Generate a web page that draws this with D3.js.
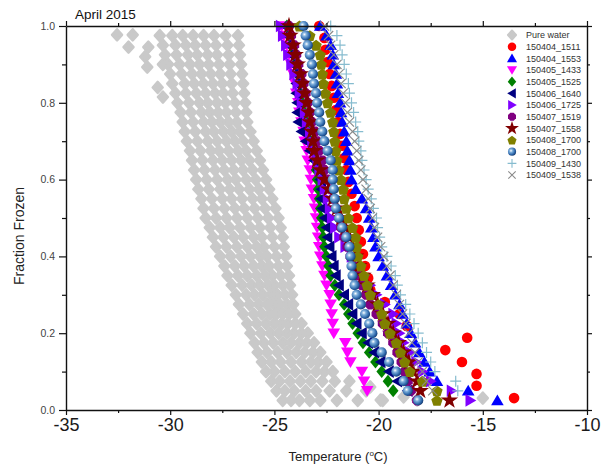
<!DOCTYPE html>
<html>
<head>
<meta charset="utf-8">
<script src="https://cdn.jsdelivr.net/npm/d3@7"></script>
<style>
  html, body { margin: 0; padding: 0; background: #fff; }
  svg { display: block; }
  text { font-family: "Liberation Sans", Arial, sans-serif; }
</style>
</head>
<body>
<svg id="chart" width="601" height="468"></svg>
<script>
// ---- fraction levels ----
const frac40 = [1.000,0.975,0.950,0.925,0.900,0.875,0.850,0.825,0.800,0.775,0.750,0.725,0.700,0.675,0.650,0.625,0.600,0.575,0.550,0.525,0.500,0.475,0.450,0.425,0.400,0.375,0.350,0.325,0.300,0.275,0.250,0.225,0.200,0.175,0.150,0.125,0.100,0.075,0.050,0.025];
const frac32 = [1.000,0.969,0.938,0.906,0.875,0.844,0.813,0.781,0.750,0.719,0.688,0.656,0.625,0.594,0.563,0.531,0.500,0.469,0.438,0.406,0.375,0.344,0.313,0.281,0.250,0.219,0.188,0.156,0.125,0.094,0.063,0.031];
const fracPure = [0.975,0.950,0.925,0.900,0.875,0.850,0.825,0.800,0.775,0.750,0.725,0.700,0.675,0.650,0.625,0.600,0.575,0.550,0.525,0.500,0.475,0.450,0.425,0.400,0.375,0.350,0.325,0.300,0.275,0.250,0.225,0.200,0.175,0.150,0.125,0.100,0.075,0.050,0.025];

// ---- pure water runs (temperature, °C) ----
const pureA = [-30.5,-30.35,-30.25,-30.1,-30.0,-29.9,-29.75,-29.65,-29.5,-29.4,-29.3,-29.2,-29.05,-28.95,-28.85,-28.75,-28.65,-28.5,-28.4,-28.3,-28.1,-27.95,-27.8,-27.6,-27.4,-27.25,-27.05,-26.85,-26.7,-26.5,-26.3,-26.15,-25.95,-25.8,-25.6,-25.4,-25.15,-24.9,-24.6];
const pureB = [-29.9,-29.75,-29.7,-29.55,-29.45,-29.3,-29.25,-29.1,-29.0,-28.9,-28.8,-28.7,-28.55,-28.45,-28.35,-28.25,-28.15,-28.0,-27.9,-27.8,-27.6,-27.45,-27.3,-27.1,-26.9,-26.75,-26.55,-26.35,-26.2,-26.0,-25.85,-25.65,-25.5,-25.35,-25.15,-25.0,-24.75,-24.5,-24.2];
const pureC = [-29.4,-29.25,-29.15,-29.05,-28.95,-28.85,-28.75,-28.6,-28.5,-28.4,-28.3,-28.2,-28.05,-27.95,-27.85,-27.75,-27.6,-27.5,-27.4,-27.3,-27.15,-26.95,-26.8,-26.6,-26.45,-26.3,-26.1,-25.95,-25.75,-25.6,-25.4,-25.2,-25.05,-24.85,-24.7,-24.5,-24.25,-24.05,-23.8];
const pureD = [-28.9,-28.8,-28.7,-28.6,-28.5,-28.4,-28.3,-28.2,-28.1,-28.0,-27.9,-27.75,-27.65,-27.5,-27.4,-27.25,-27.15,-27.05,-26.9,-26.8,-26.65,-26.5,-26.3,-26.15,-26.0,-25.85,-25.7,-25.55,-25.35,-25.2,-25.0,-24.8,-24.6,-24.4,-24.2,-24.0,-23.75,-23.5,-23.3];
const pureE = [-28.4,-28.3,-28.2,-28.15,-28.05,-27.95,-27.85,-27.75,-27.7,-27.6,-27.45,-27.3,-27.2,-27.05,-26.95,-26.85,-26.7,-26.55,-26.45,-26.3,-26.15,-26.0,-25.85,-25.7,-25.6,-25.45,-25.3,-25.15,-25.0,-24.9,-24.65,-24.4,-24.2,-23.95,-23.7,-23.5,-23.25,-23.0,-22.8];
const pureF = [-27.9,-27.8,-27.75,-27.65,-27.6,-27.5,-27.45,-27.35,-27.3,-27.2,-27.05,-26.9,-26.75,-26.6,-26.5,-26.35,-26.2,-26.05,-25.95,-25.8,-25.7,-25.6,-25.5,-25.35,-25.25,-25.1,-25.0,-24.85,-24.75,-24.6,-24.35,-24.05,-23.8,-23.55,-23.25,-23.0,-22.7,-22.35,-22.0];
const pureG = [-27.35,-27.25,-27.2,-27.15,-27.1,-27.05,-27.0,-26.9,-26.85,-26.8,-26.65,-26.5,-26.35,-26.2,-26.05,-25.9,-25.75,-25.6,-25.45,-25.3,-25.2,-25.1,-25.0,-24.9,-24.8,-24.7,-24.6,-24.5,-24.4,-24.3,-24.0,-23.7,-23.45,-23.15,-22.9,-22.6,-22.1,-21.55,-21.0];
const pureH = [-26.75,-26.7,-26.65,-26.6,-26.55,-26.5,-26.45,-26.4,-26.35,-26.3,-26.15,-26.0,-25.85,-25.7,-25.55,-25.4,-25.25,-25.1,-24.95,-24.8,-24.7,-24.6,-24.55,-24.45,-24.4,-24.3,-24.25,-24.15,-24.1,-24.0,-23.7,-23.4,-23.1,-22.8,-22.5,-22.2,-21.4,-20.6,-19.8];
const pureExtraT = [-32.55,-31.8,-32.0,-31.05,-31.2,-31.1,-30.35,-30.6,-30.35,-20.4,-18.8,-18.15,-15.0,-19.9];
const pureExtraF = [0.977,0.977,0.945,0.945,0.92,0.893,0.9,0.84,0.815,0.06,0.034,0.026,0.031,0.026];

// ---- sample runs (temperature, °C) ----
const s150404_1511 = [-22.85,-22.6,-22.55,-22.45,-22.35,-22.25,-22.15,-22.05,-21.95,-21.85,-21.75,-21.65,-21.55,-21.45,-21.3,-21.15,-21.05,-20.95,-20.85,-20.75,-20.65,-20.5,-20.4,-19.7,-19.0,-18.65,-15.75,-16.8,-16.0,-15.3,-15.3,-13.5];
const s150404_1553 = [-22.8,-22.5,-22.3,-22.2,-22.15,-22.05,-22.0,-21.95,-21.85,-21.8,-21.75,-21.65,-21.55,-21.5,-21.4,-21.35,-21.3,-21.1,-20.8,-20.6,-20.45,-20.35,-20.25,-20.15,-20.0,-19.8,-19.6,-19.4,-19.2,-19.0,-18.85,-18.65,-18.45,-18.25,-18.05,-17.8,-17.55,-17.2,-15.7,-14.3];
const s150405_1433 = [-24.65,-24.55,-24.4,-24.3,-24.2,-24.1,-24.0,-23.95,-23.85,-23.8,-23.7,-23.6,-23.55,-23.45,-23.4,-23.3,-23.25,-23.2,-23.1,-23.05,-23.0,-22.95,-22.9,-22.85,-22.8,-22.7,-22.6,-22.5,-22.35,-22.3,-22.25,-22.2,-22.15,-21.6,-21.5,-21.35,-20.8,-20.7,-20.55];
const s150405_1525 = [-24.4,-24.3,-24.2,-24.1,-24.0,-23.9,-23.8,-23.75,-23.65,-23.55,-23.45,-23.35,-23.25,-23.15,-23.05,-23.0,-22.95,-22.9,-22.85,-22.8,-22.75,-22.7,-22.65,-22.6,-22.5,-22.4,-22.3,-22.1,-21.9,-21.65,-21.45,-21.25,-21.0,-20.75,-20.45,-20.15,-19.85,-19.55,-19.3];
const s150406_1640 = [-24.5,-24.4,-24.3,-24.2,-24.1,-24.0,-23.95,-23.95,-23.9,-23.9,-23.85,-23.7,-23.5,-23.3,-23.1,-22.9,-22.8,-22.75,-22.75,-22.7,-22.6,-22.5,-22.45,-22.35,-22.25,-22.15,-22.05,-21.9,-21.65,-21.45,-21.25,-21.05,-20.8,-20.5,-20.2,-19.9,-19.5,-19.1,-18.6];
const s150406_1725 = [-24.7,-24.6,-24.45,-24.35,-24.2,-24.05,-23.9,-23.8,-23.7,-23.55,-23.45,-23.3,-23.2,-23.05,-22.95,-22.85,-22.7,-22.6,-22.45,-22.35,-22.25,-22.1,-21.9,-21.6,-21.3,-21.0,-20.7,-20.4,-20.1,-19.7,-19.3,-19.15,-19.0,-18.8,-18.5,-18.2,-17.9,-17.5,-16.5,-15.6];
const s150407_1519 = [-24.3,-24.2,-24.05,-23.95,-23.85,-23.7,-23.6,-23.5,-23.4,-23.3,-23.2,-23.05,-22.95,-22.85,-22.7,-22.6,-22.45,-22.3,-22.2,-22.05,-21.9,-21.8,-21.65,-21.5,-21.35,-21.2,-21.0,-20.8,-20.6,-20.4,-20.1,-19.8,-19.55,-19.3,-19.1,-18.9,-18.75,-18.6,-18.45,-18.15];
const s150407_1558 = [-24.3,-24.25,-24.1,-24.0,-23.9,-23.75,-23.65,-23.55,-23.45,-23.35,-23.3,-23.2,-23.15,-23.1,-22.95,-22.8,-22.6,-22.4,-22.2,-22.0,-21.8,-21.6,-21.4,-21.25,-21.1,-20.95,-20.75,-20.55,-20.3,-20.05,-19.8,-19.55,-19.3,-19.05,-18.8,-18.55,-18.35,-18.15,-18.0,-16.6];
const s150408_1700a = [-23.8,-23.3,-23.0,-22.8,-22.75,-22.7,-22.65,-22.55,-22.45,-22.3,-22.2,-22.15,-22.1,-22.05,-22.0,-21.9,-21.8,-21.7,-21.65,-21.55,-21.45,-21.25,-21.1,-21.05,-21.0,-20.85,-20.7,-20.55,-20.4,-20.0,-19.85,-19.7,-19.45,-19.15,-18.95,-18.75,-18.5,-17.9,-17.2,-17.2];
const s150408_1700b = [-23.6,-23.5,-23.4,-23.3,-23.2,-23.15,-23.1,-23.0,-22.95,-22.85,-22.8,-22.7,-22.6,-22.45,-22.3,-22.2,-22.2,-22.15,-22.1,-22.05,-21.9,-21.75,-21.55,-21.4,-21.35,-21.3,-21.25,-21.15,-21.05,-20.85,-20.65,-20.45,-20.3,-20.2,-19.85,-19.5,-19.15,-18.8,-18.6,-18.1];
const s150409_1430 = [-22.3,-22.0,-21.85,-21.75,-21.65,-21.55,-21.45,-21.4,-21.3,-21.2,-21.1,-21.0,-20.95,-20.85,-20.8,-20.7,-20.6,-20.5,-20.35,-20.25,-20.1,-20.05,-19.95,-19.85,-19.6,-19.4,-19.2,-19.1,-18.95,-18.7,-18.5,-18.3,-18.1,-17.9,-17.7,-17.5,-17.3,-16.3,-16.2];
const s150409_1538 = [-22.6,-22.4,-22.3,-22.15,-22.0,-21.9,-21.8,-21.7,-21.6,-21.5,-21.4,-21.25,-21.15,-21.05,-20.95,-20.85,-20.75,-20.6,-20.5,-20.4,-20.3,-20.2,-20.05,-19.9,-19.75,-19.6,-19.45,-19.3,-19.15,-19.0,-18.85,-18.7,-18.55,-18.4,-18.25,-18.1,-17.9,-17.7,-17.4];

// ---- axis ticks ----
const xMajorTicks = [-35, -30, -25, -20, -15, -10];
const xMinorTicks = [-32.5, -27.5, -22.5, -17.5, -12.5];
const yMajorTicks = [0, 0.2, 0.4, 0.6, 0.8, 1.0];
const yMinorTicks = [0.1, 0.3, 0.5, 0.7, 0.9];

// ---- marker shapes ----
function shapePath(type, s) {
  const p = [];
  const poly = pts => "M" + pts.map(q => q[0].toFixed(2) + "," + q[1].toFixed(2)).join("L") + "Z";
  switch (type) {
    case "circle": return d3.symbol(d3.symbolCircle, Math.PI * s * s)();
    case "rhomb": return poly([[0,-s],[s*0.9,0],[0,s],[-s*0.9,0]]);
    case "triUp": return poly([[0,-s],[s*1.05,s*0.8],[-s*1.05,s*0.8]]);
    case "triDown": return poly([[0,s],[s*1.05,-s*0.8],[-s*1.05,-s*0.8]]);
    case "triLeft": return poly([[-s,0],[s*0.8,-s*1.05],[s*0.8,s*1.05]]);
    case "triRight": return poly([[s,0],[-s*0.8,-s*1.05],[-s*0.8,s*1.05]]);
    case "diamond": return poly([[0,-s*1.15],[s*0.95,0],[0,s*1.15],[-s*0.95,0]]);
    case "octagon":
      for (let i = 0; i < 8; i++) { const a = Math.PI / 8 + i * Math.PI / 4; p.push([s * Math.cos(a), s * Math.sin(a)]); }
      return poly(p);
    case "pentagon":
      for (let i = 0; i < 5; i++) { const a = -Math.PI / 2 + i * 2 * Math.PI / 5; p.push([s * 1.05 * Math.cos(a), s * 1.05 * Math.sin(a) + 0.6]); }
      return poly(p);
    case "star": return d3.symbol(d3.symbolStar, s * s * 2.6)();
    case "plus": return `M${-s},0L${s},0M0,${-s}L0,${s}`;
    case "cross": return `M${-s},${-s}L${s},${s}M${-s},${s}L${s},${-s}`;
  }
}

const x = d3.scaleLinear().domain([-35, -10]).range([66, 587]);
const y = d3.scaleLinear().domain([0, 1]).range([410, 26]);

const svg = d3.select("#chart");
const defs = svg.append("defs");
const grad = defs.append("radialGradient").attr("id", "ball").attr("cx", "38%").attr("cy", "38%").attr("r", "65%");
grad.append("stop").attr("offset", "0%").attr("stop-color", "#ffffff");
grad.append("stop").attr("offset", "30%").attr("stop-color", "#7fb0dc");
grad.append("stop").attr("offset", "75%").attr("stop-color", "#2a64a8");
grad.append("stop").attr("offset", "100%").attr("stop-color", "#173c70");

const pureRuns = [pureA, pureB, pureC, pureD, pureE, pureF, pureG, pureH];
const purePoints = [];
pureRuns.forEach(run => run.forEach((t, i) => purePoints.push([t, fracPure[i]])));
pureExtraT.forEach((t, i) => purePoints.push([t, pureExtraF[i]]));

const series = [
  { name: "Pure water",  points: purePoints, shape: "rhomb", size: 5.6, fill: "#c9c9c9", soft: true },
  { name: "150404_1511", temps: s150404_1511, fracs: frac32, shape: "circle",   size: 5.3, fill: "#ff0000" },
  { name: "150404_1553", temps: s150404_1553, fracs: frac40, shape: "triUp",    size: 6.0, fill: "#0000ff" },
  { name: "150405_1433", temps: s150405_1433, fracs: frac40, shape: "triDown",  size: 6.0, fill: "#ff00ff" },
  { name: "150405_1525", temps: s150405_1525, fracs: frac40, shape: "diamond",  size: 5.6, fill: "#008000" },
  { name: "150406_1640", temps: s150406_1640, fracs: frac40, shape: "triLeft",  size: 6.0, fill: "#000080" },
  { name: "150406_1725", temps: s150406_1725, fracs: frac40, shape: "triRight", size: 6.0, fill: "#8000ff" },
  { name: "150407_1519", temps: s150407_1519, fracs: frac40, shape: "octagon",  size: 5.4, fill: "#800080" },
  { name: "150407_1558", temps: s150407_1558, fracs: frac40, shape: "star",     size: 6.0, fill: "#800000" },
  { name: "150408_1700", temps: s150408_1700a, fracs: frac40, shape: "pentagon", size: 5.7, fill: "#808000" },
  { name: "150408_1700", temps: s150408_1700b, fracs: frac40, shape: "circle",   size: 5.1, fill: "url(#ball)" },
  { name: "150409_1430", temps: s150409_1430, fracs: frac40, shape: "plus",     size: 5.5, stroke: "#86bccf" },
  { name: "150409_1538", temps: s150409_1538, fracs: frac40, shape: "cross",    size: 4.6, stroke: "#8a8a8a" }
];
series.forEach(s => {
  if (!s.points) s.points = s.temps.map((t, i) => [t, s.fracs[i]]);
});

// ---- markers ----
const plot = svg.append("g");
series.forEach(s => {
  const d = shapePath(s.shape, s.size);
  plot.append("g").selectAll("path").data(s.points).join("path")
    .attr("d", d)
    .attr("transform", p => `translate(${x(p[0])},${y(p[1])})`)
    .attr("fill", s.fill || "none")
    .attr("stroke", s.stroke || (s.soft ? s.fill : "none"))
    .attr("stroke-width", s.stroke ? 1.2 : (s.soft ? 2.4 : 0))
    .attr("stroke-linejoin", "round");
});

// ---- axes ----
const axisColor = "#111";
function styleAxis(g) {
  g.select(".domain").attr("stroke", axisColor).attr("stroke-width", 1.4);
  g.selectAll(".tick line").attr("stroke", axisColor).attr("stroke-width", 1.2);
}
svg.append("g").attr("transform", "translate(0,410)")
  .call(d3.axisBottom(x).tickValues(xMajorTicks).tickSize(5).tickSizeOuter(0).tickPadding(3).tickFormat(d3.format("d")))
  .call(styleAxis)
  .call(g => g.selectAll("text").attr("font-size", 18).attr("fill", "#1a1a1a").style("font-family", "Liberation Sans, Arial, sans-serif").text(d => String(d)));
svg.append("g").attr("transform", "translate(0,410)")
  .call(d3.axisBottom(x).tickValues(xMinorTicks).tickSize(3).tickFormat(""))
  .call(styleAxis).call(g => g.select(".domain").remove());
svg.append("g").attr("transform", "translate(0,26)")
  .call(d3.axisTop(x).tickValues(xMajorTicks).tickSize(5).tickSizeOuter(0).tickFormat(""))
  .call(styleAxis);
svg.append("g").attr("transform", "translate(0,26)")
  .call(d3.axisTop(x).tickValues(xMinorTicks).tickSize(3).tickFormat(""))
  .call(styleAxis).call(g => g.select(".domain").remove());
svg.append("g").attr("transform", "translate(66,0)")
  .call(d3.axisLeft(y).tickValues(yMajorTicks).tickSize(7).tickSizeOuter(0).tickPadding(4).tickFormat(d3.format(".1f")))
  .call(styleAxis)
  .call(g => g.selectAll("text").attr("font-size", 10.5).attr("fill", "#444").style("font-family", "Liberation Sans, Arial, sans-serif"));
svg.append("g").attr("transform", "translate(66,0)")
  .call(d3.axisLeft(y).tickValues(yMinorTicks).tickSize(4).tickFormat(""))
  .call(styleAxis).call(g => g.select(".domain").remove());
svg.append("g").attr("transform", "translate(587,0)")
  .call(d3.axisRight(y).tickValues(yMajorTicks).tickSize(5).tickSizeOuter(0).tickFormat(""))
  .call(styleAxis);
svg.append("g").attr("transform", "translate(587,0)")
  .call(d3.axisRight(y).tickValues(yMinorTicks).tickSize(3).tickFormat(""))
  .call(styleAxis).call(g => g.select(".domain").remove());

// ---- titles ----
svg.append("text").attr("x", 75).attr("y", 19).attr("font-size", 13.5).attr("fill", "#111").text("April 2015");
const xt = svg.append("text").attr("x", 338).attr("y", 461).attr("text-anchor", "middle").attr("font-size", 13).attr("fill", "#222");
xt.append("tspan").text("Temperature (");
xt.append("tspan").attr("font-size", 8).attr("dy", -5).text("o");
xt.append("tspan").attr("dy", 5).text("C)");
svg.append("text").attr("transform", "translate(24,236) rotate(-90)").attr("text-anchor", "middle")
  .attr("font-size", 14).attr("fill", "#222").text("Fraction Frozen");

// ---- legend ----
const legend = svg.append("g").attr("transform", "translate(512,35)");
series.forEach((s, i) => {
  const g = legend.append("g").attr("transform", `translate(0,${i * 11.67})`);
  g.append("path").attr("d", shapePath(s.shape, s.size * 0.8))
    .attr("fill", s.fill || "none")
    .attr("stroke", s.stroke || (s.soft ? s.fill : "none"))
    .attr("stroke-width", s.stroke ? 1.1 : (s.soft ? 2 : 0))
    .attr("stroke-linejoin", "round");
  g.append("text").attr("x", 14).attr("y", 3.3).attr("font-size", 9).attr("fill", "#333").text(s.name);
});
</script>
</body>
</html>
